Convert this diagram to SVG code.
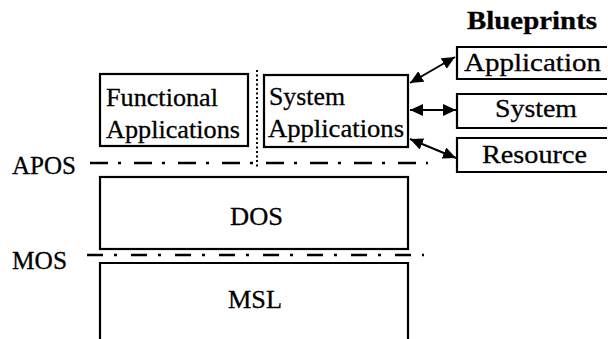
<svg xmlns="http://www.w3.org/2000/svg" width="608" height="339" viewBox="0 0 608 339" font-family="Liberation Serif, Times New Roman, DejaVu Serif, serif">
<style>
.box{fill:none;stroke:#000;stroke-width:2.2}
text{font-size:26px;fill:#000;stroke:#000;stroke-width:0.3}
.b{font-weight:bold;font-size:26px}
.dd{stroke:#000;stroke-width:2.5;fill:none}
.dot{stroke:#000;stroke-width:2;stroke-dasharray:2 2.5;fill:none}
.arr{stroke:#000;stroke-width:2;fill:none;marker-start:url(#ah);marker-end:url(#ah)}
</style>
<defs>
<marker id="ah" markerUnits="userSpaceOnUse" markerWidth="14" markerHeight="13" refX="13" refY="6" orient="auto-start-reverse" viewBox="0 0 14 13">
<path d="M0,0 L13,6 L0,12 z" fill="#000"/>
</marker>
</defs>
<rect width="608" height="339" fill="#fff"/>
<g id="functional-applications">
<rect class="box" x="100" y="74" width="148" height="72"/>
<text x="106" y="106" textLength="112" lengthAdjust="spacingAndGlyphs">Functional</text>
<text x="106" y="138" textLength="134" lengthAdjust="spacingAndGlyphs">Applications</text>
</g>
<g id="system-applications">
<rect class="box" x="264" y="75" width="144" height="72"/>
<text x="269" y="105" textLength="76" lengthAdjust="spacingAndGlyphs">System</text>
<text x="268" y="137" textLength="136" lengthAdjust="spacingAndGlyphs">Applications</text>
</g>
<g id="blueprints-title">
<text class="b" x="467" y="29" textLength="130" lengthAdjust="spacingAndGlyphs">Blueprints</text>
</g>
<g id="bp-application">
<path class="box" d="M607,47 H457 V79 H607"/>
<text x="464" y="71" textLength="137" lengthAdjust="spacingAndGlyphs">Application</text>
</g>
<g id="bp-system">
<path class="box" d="M607,94 H457 V128 H607"/>
<text x="495" y="117" textLength="82" lengthAdjust="spacingAndGlyphs">System</text>
</g>
<g id="bp-resource">
<path class="box" d="M607,138 H457 V172 H607"/>
<text x="482" y="163" textLength="105" lengthAdjust="spacingAndGlyphs">Resource</text>
</g>
<g id="dos">
<rect class="box" x="100" y="177" width="308" height="72"/>
<text x="230" y="225" textLength="53" lengthAdjust="spacingAndGlyphs">DOS</text>
</g>
<g id="msl">
<path class="box" d="M100,340 V263 H408 V340"/>
<text x="228" y="308" textLength="54" lengthAdjust="spacingAndGlyphs">MSL</text>
</g>
<g id="layer-labels">
<text x="12" y="174" textLength="64" lengthAdjust="spacingAndGlyphs">APOS</text>
<text x="12" y="269" textLength="55" lengthAdjust="spacingAndGlyphs">MOS</text>
</g>
<g id="connectors">
<line class="dd" x1="90" y1="163" x2="428" y2="163" stroke-dasharray="18 10 3 13"/>
<line class="dd" x1="87" y1="255" x2="424" y2="255" stroke-dasharray="16 11 3 14"/>
<line class="dot" x1="257" y1="70" x2="257" y2="168"/>
<line class="arr" x1="410" y1="83" x2="455" y2="57"/>
<line class="arr" x1="410" y1="110" x2="456" y2="110"/>
<line class="arr" x1="410" y1="139" x2="456" y2="158"/>
</g>
</svg>
